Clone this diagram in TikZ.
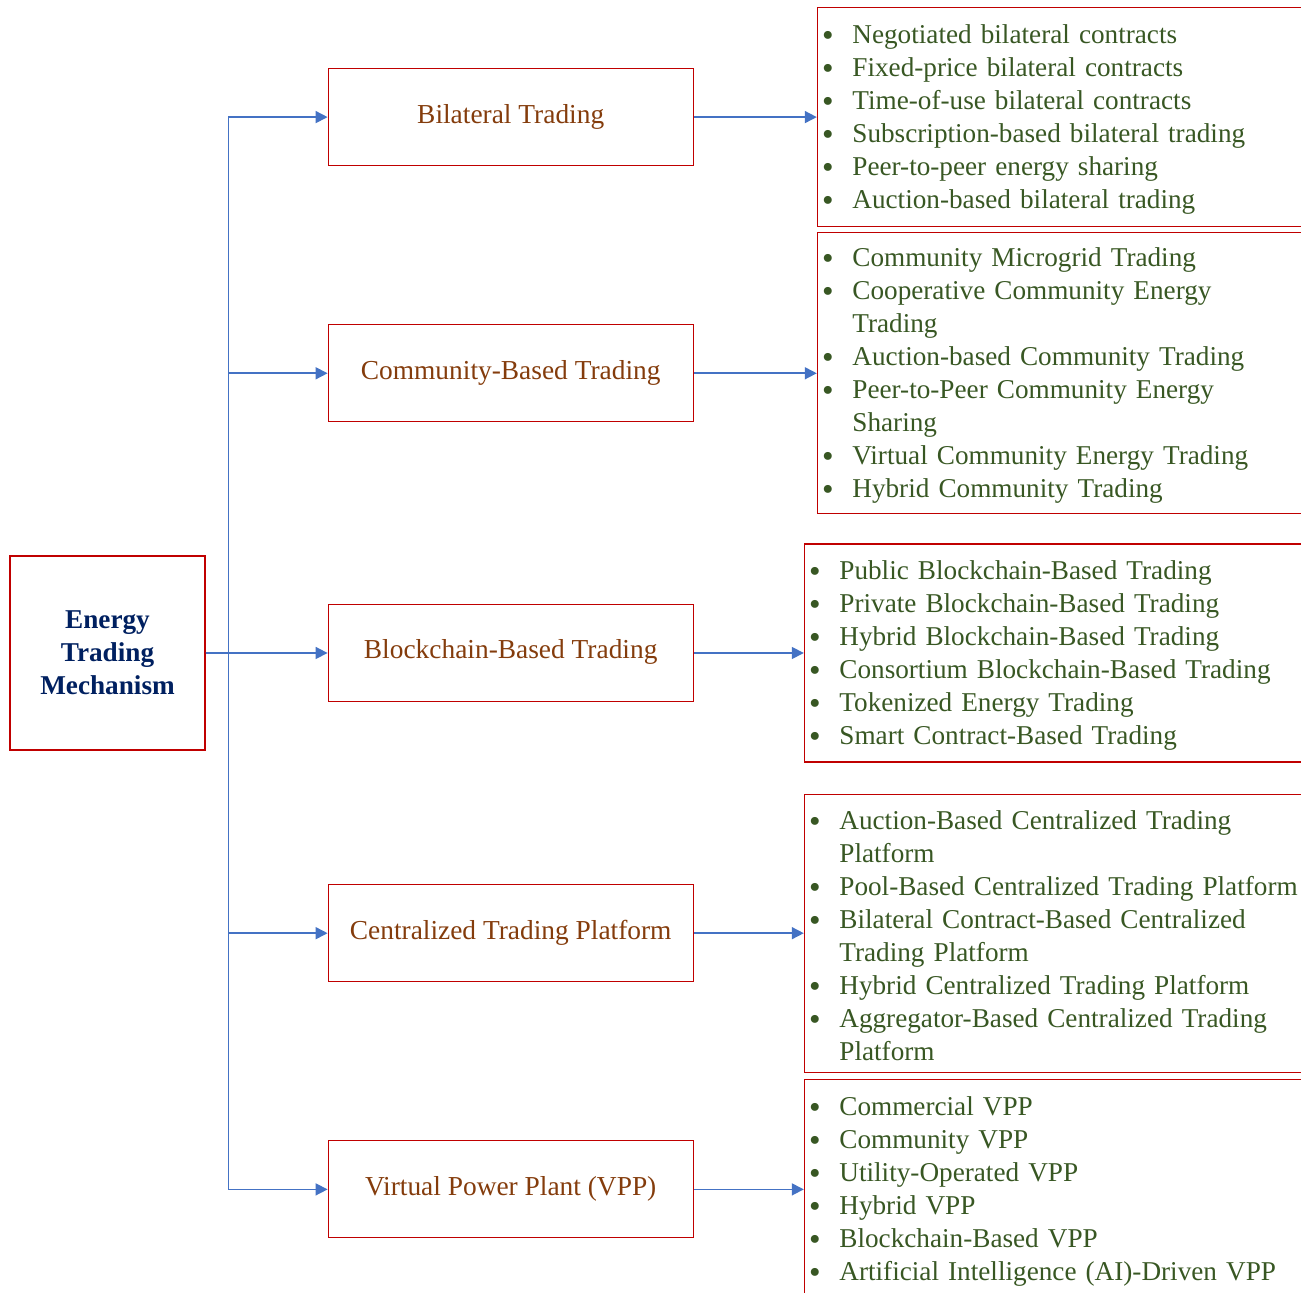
\documentclass[tikz,border=0pt]{standalone}
\usepackage{fontspec}
\setmainfont{Liberation Serif}
\newfontfamily\dotfont{DejaVu Sans}
\usepackage{enumitem}
\usetikzlibrary{positioning, arrows.meta, calc}
\definecolor{boxred}{RGB}{192,0,0}
\definecolor{linkblue}{RGB}{68,114,196}
\definecolor{leafgreen}{RGB}{56,87,35}
\definecolor{catbrown}{RGB}{132,60,12}
\definecolor{rootnavy}{RGB}{0,32,96}
\newcommand{\bigdot}{\raisebox{-1.2pt}{\dotfont •}}
\newcommand{\listgap}{\par\vspace*{5pt}}
\setlist[itemize]{label=\bigdot, leftmargin=13.5pt, labelsep=8.25pt, topsep=0pt, itemsep=0pt, parsep=0pt, partopsep=0pt}
\tikzstyle{mechanism} = [rectangle, minimum width=97.5pt, minimum height=97pt, align=center, draw=boxred, line width=0.6pt, text=rootnavy, font=\fontsize{13.6pt}{16.4pt}\selectfont\bfseries]
\tikzstyle{category} = [rectangle, minimum width=182.5pt, minimum height=48.5pt, text height=9pt, text depth=3pt, text centered, draw=boxred, line width=0.6pt, text=catbrown, font=\fontsize{13.7pt}{16.5pt}\selectfont]
\tikzstyle{typelist} = [rectangle, inner xsep=4pt, inner ysep=0pt, text width=252pt, draw=boxred, line width=0.6pt, text=leafgreen, font=\fontsize{13.6pt}{16.5pt}\selectfont, execute at end node=\listgap]
\tikzstyle{arrow} = [line width=0.8pt, draw=linkblue, -{Triangle[length=6pt,width=6pt]}]

\begin{document}
\begin{tikzpicture}
    \useasboundingbox (-53.75pt,326.5pt) rectangle (596.75pt,-320pt);
    \clip (-53.75pt,326.5pt) rectangle (596.75pt,-320pt);

    \node (etm) [mechanism] {Energy\\Trading\\Mechanism};

    \node (blockchain)  [category, right=61pt of etm] {Blockchain-Based Trading};
    \node (community)   [category, above=90.75pt of blockchain] {Community-Based Trading};
    \node (bilateral)   [category, above=79pt of community] {Bilateral Trading};
    \node (centralized) [category, below=91pt of blockchain] {Centralized Trading Platform};
    \node (vpp)         [category, below=79pt of centralized] {Virtual Power Plant (VPP)};

    \coordinate (split) at ($(etm.east)+(11.5pt,0)$);

    \node (bilateral_types) [typelist, minimum height=109.5pt, right=61.5pt of bilateral] {%
        \begin{itemize}
        \item Negotiated bilateral contracts
        \item Fixed-price bilateral contracts
        \item Time-of-use bilateral contracts
        \item Subscription-based bilateral trading
        \item Peer-to-peer energy sharing
        \item Auction-based bilateral trading
        \end{itemize}};
    \node (community_types) [typelist, minimum height=140.5pt, right=61.5pt of community] {%
        \begin{itemize}
        \item Community Microgrid Trading
        \item Cooperative Community Energy\newline Trading
        \item Auction-based Community Trading
        \item Peer-to-Peer Community Energy\newline Sharing
        \item Virtual Community Energy Trading
        \item Hybrid Community Trading
        \end{itemize}};
    \node (blockchain_types) [typelist, minimum height=109pt, right=55pt of blockchain] {%
        \begin{itemize}
        \item Public Blockchain-Based Trading
        \item Private Blockchain-Based Trading
        \item Hybrid Blockchain-Based Trading
        \item Consortium Blockchain-Based Trading
        \item Tokenized Energy Trading
        \item Smart Contract-Based Trading
        \end{itemize}};
    \node (centralized_types) [typelist, minimum height=139pt, right=55pt of centralized] {%
        \begin{itemize}
        \item Auction-Based Centralized Trading\newline Platform
        \item Pool-Based Centralized Trading Platform
        \item Bilateral Contract-Based Centralized\newline Trading Platform
        \item Hybrid Centralized Trading Platform
        \item Aggregator-Based Centralized Trading\newline Platform
        \end{itemize}};
    \node (vpp_types) [typelist, minimum height=110pt, right=55pt of vpp] {%
        \begin{itemize}
        \item Commercial VPP
        \item Community VPP
        \item Utility-Operated VPP
        \item Hybrid VPP
        \item Blockchain-Based VPP
        \item Artificial Intelligence (AI)-Driven VPP
        \end{itemize}};

\draw [arrow] (etm.east) -- (blockchain.west);
\draw [arrow] (etm.east) -- (split) |- (bilateral.west);
\draw [arrow] (etm.east) -- (split) |- (community.west);
\draw [arrow] (etm.east) -- (split) |- (centralized.west);
\draw [arrow] (etm.east) -- (split) |- (vpp.west);

\draw [arrow] (bilateral) -- (bilateral_types);
\draw [arrow] (community) -- (community_types);
\draw [arrow] (blockchain) -- (blockchain_types);
\draw [arrow] (centralized) -- (centralized_types);
\draw [arrow] (vpp) -- (vpp_types);

\end{tikzpicture}
\end{document}
